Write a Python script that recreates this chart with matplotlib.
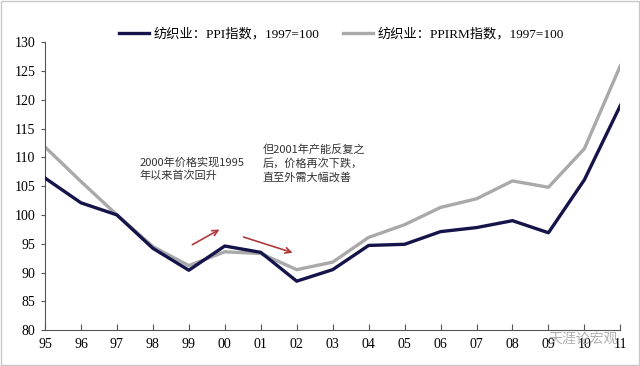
import matplotlib
matplotlib.use("Agg")
import matplotlib.pyplot as plt

# x-axis labels (years 1995-2011)
years = ["95", "96", "97", "98", "99", "00", "01", "02", "03", "04",
         "05", "06", "07", "08", "09", "10", "11"]
# textile PPI, 1997=100
ppi = [106.4, 102.1, 100.0, 94.2, 90.4, 94.6, 93.5, 88.5, 90.5, 94.7,
       94.9, 97.1, 97.8, 99.0, 96.9, 106.1, 119.0]
# textile PPIRM, 1997=100
ppirm = [111.8, 105.8, 100.0, 94.5, 91.2, 93.6, 93.3, 90.5, 91.8, 96.1,
         98.3, 101.3, 102.8, 105.9, 104.8, 111.5, 125.9]

serif = ["Liberation Serif", "Noto Sans CJK SC"]
cjk = ["Noto Sans CJK SC", "DejaVu Sans"]

fig = plt.figure(figsize=(6.4, 3.66), dpi=100)
fig.patches.append(plt.Rectangle((0.002, 0.003), 0.996, 0.994, transform=fig.transFigure,
                                 fill=False, edgecolor="#c8c8c8", linewidth=1))
ax = fig.add_axes([0.0703, 0.098, 0.899, 0.787])

x = list(range(len(years)))
ax.plot(x, ppi, color="#14144a", linewidth=2.4, label="纺织业：PPI指数，1997=100", zorder=3)
ax.plot(x, ppirm, color="#a9a9a9", linewidth=2.4, label="纺织业：PPIRM指数，1997=100", zorder=2)

ax.set_xlim(0, len(years) - 1)
ax.set_ylim(80, 130)
ax.set_yticks(range(80, 131, 5))
ax.set_xticks(x)
ax.set_xticklabels(years, fontfamily=serif, fontsize=10)
for lab in ax.get_yticklabels():
    lab.set_fontfamily(serif)
    lab.set_fontsize(10)
ax.spines["top"].set_visible(False)
ax.spines["right"].set_visible(False)
ax.spines["left"].set_color("#555555")
ax.spines["bottom"].set_color("#555555")
ax.tick_params(axis="x", direction="in", length=4, color="#555555", pad=6)
ax.tick_params(axis="y", direction="out", length=3, color="#555555", pad=4)

leg = ax.legend(loc="lower center", bbox_to_anchor=(0.515, 0.965), ncol=2, frameon=False,
                prop={"family": serif, "size": 9.5}, handlelength=2.3, columnspacing=1.8,
                handletextpad=0.3)

ax.annotate("", xy=(4.92, 97.7), xytext=(4.03, 94.6),
            arrowprops=dict(arrowstyle="->", color="#b03a3a", lw=1.2))
ax.annotate("", xy=(6.96, 93.3), xytext=(5.45, 96.3),
            arrowprops=dict(arrowstyle="->", color="#b03a3a", lw=1.2))
ax.text(2.62, 110.0, "2000年价格实现1995\n年以来首次回升", fontsize=8, style="italic",
        family=cjk, color="#333333", va="top", linespacing=1.3)
ax.text(6.05, 112.2, "但2001年产能反复之\n后，价格再次下跌，\n直至外需大幅改善", fontsize=8,
        style="italic", family=cjk, color="#333333", va="top", linespacing=1.3)
ax.text(14.0, 77.6, "天涯论宏观", fontsize=10, family=cjk, color="#b0b0b0", zorder=5,
        clip_on=False)

fig.savefig("out.png", dpi=100)
